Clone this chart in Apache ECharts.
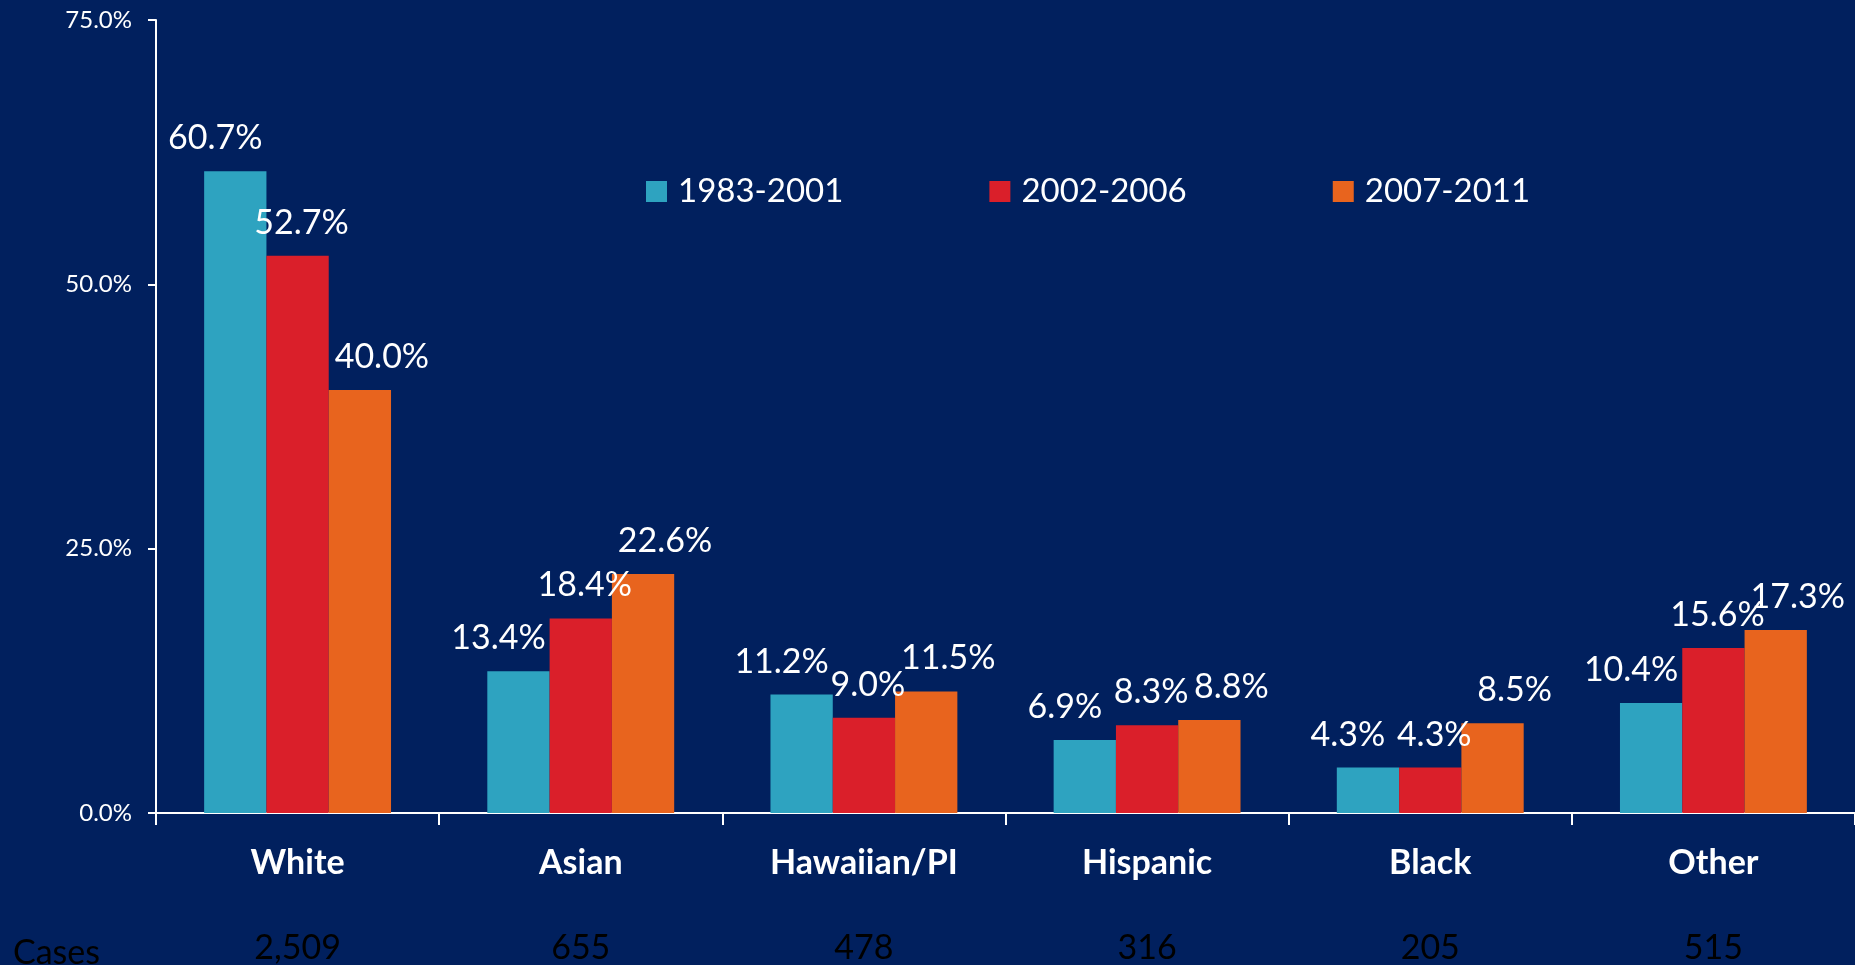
<!DOCTYPE html>
<html>
<head>
    <meta charset="utf-8">
    <script src="https://cdn.jsdelivr.net/npm/echarts@6/dist/echarts.min.js"></script>
    <style>
        html, body { margin: 0; padding: 0; background: #01205e; }
    </style>
</head>
<body>
<div id="main" style="width: 1855px;height:965px;"></div>
<script type="text/javascript">

  // data
  var categories = ['White', 'Asian', 'Hawaiian/PI', 'Hispanic', 'Black', 'Other'];
  var cases = ['2,509', '655', '478', '316', '205', '515'];
  var seriesNames = ['1983-2001', '2002-2006', '2007-2011'];
  var p1983 = [60.7, 13.4, 11.2, 6.9, 4.3, 10.4];
  var p2002 = [52.7, 18.4, 9.0, 8.3, 4.3, 15.6];
  var p2007 = [40.0, 22.6, 11.5, 8.8, 8.5, 17.3];
  var yTicks = [0, 25, 50, 75];

  var colors = ['#2ea3c0', '#da1f2a', '#e8641e'];
  var font = 'Lato';

  var myChart = echarts.init(document.getElementById('main'));

  function makeSeries(name, data, dx) {
      return {
          name: name,
          type: 'bar',
          data: data,
          barGap: 0,
          barCategoryGap: '34%',
          label: {
              show: true,
              position: 'top',
              distance: 16,
              offset: [dx, 0],
              color: '#fff',
              fontFamily: font,
              fontSize: 34,
              formatter: function (p) { return p.value.toFixed(1) + '%'; }
          }
      };
  }

  var option = {
      backgroundColor: '#01205e',
      color: colors,
      animation: false,
      title: {
          text: 'Cases',
          left: 8,
          top: 931,
          textStyle: { color: '#000', fontFamily: font, fontSize: 34, fontWeight: 'normal' }
      },
      legend: {
          data: seriesNames,
          left: 641,
          top: 170,
          itemWidth: 21,
          itemHeight: 21,
          itemGap: 146,
          icon: 'rect',
          textStyle: { color: '#fff', fontFamily: font, fontSize: 33, padding: [0, 0, 0, 6] }
      },
      grid: {
          left: 156,
          right: 0,
          top: 20,
          bottom: 151,
          containLabel: false
      },
      xAxis: [
          {
              type: 'category',
              data: categories,
              axisLine: { lineStyle: { color: '#fff', width: 2 } },
              axisTick: { show: true, length: 12, lineStyle: { color: '#fff', width: 2 } },
              axisLabel: { color: '#fff', fontFamily: font, fontSize: 34, fontWeight: 'bold', margin: 33 }
          },
          {
              type: 'category',
              data: cases,
              position: 'bottom',
              axisLine: { show: false },
              axisTick: { show: false },
              axisLabel: { color: '#000', fontFamily: font, fontSize: 34, margin: 118 }
          }
      ],
      yAxis: {
          type: 'value',
          min: yTicks[0],
          max: yTicks[yTicks.length - 1],
          interval: 25,
          splitLine: { show: false },
          axisLine: { show: true, lineStyle: { color: '#fff', width: 2 } },
          axisTick: { show: true, length: 8, lineStyle: { color: '#fff', width: 2 } },
          axisLabel: {
              color: '#fff',
              fontFamily: font,
              fontSize: 24,
              margin: 24,
              formatter: function (v) { return v.toFixed(1) + '%'; }
          }
      },
      series: [
          makeSeries(seriesNames[0], p1983, -20),
          makeSeries(seriesNames[1], p2002, 4),
          makeSeries(seriesNames[2], p2007, 22)
      ]
  };

  myChart.setOption(option);

</script>
</body>
</html>
